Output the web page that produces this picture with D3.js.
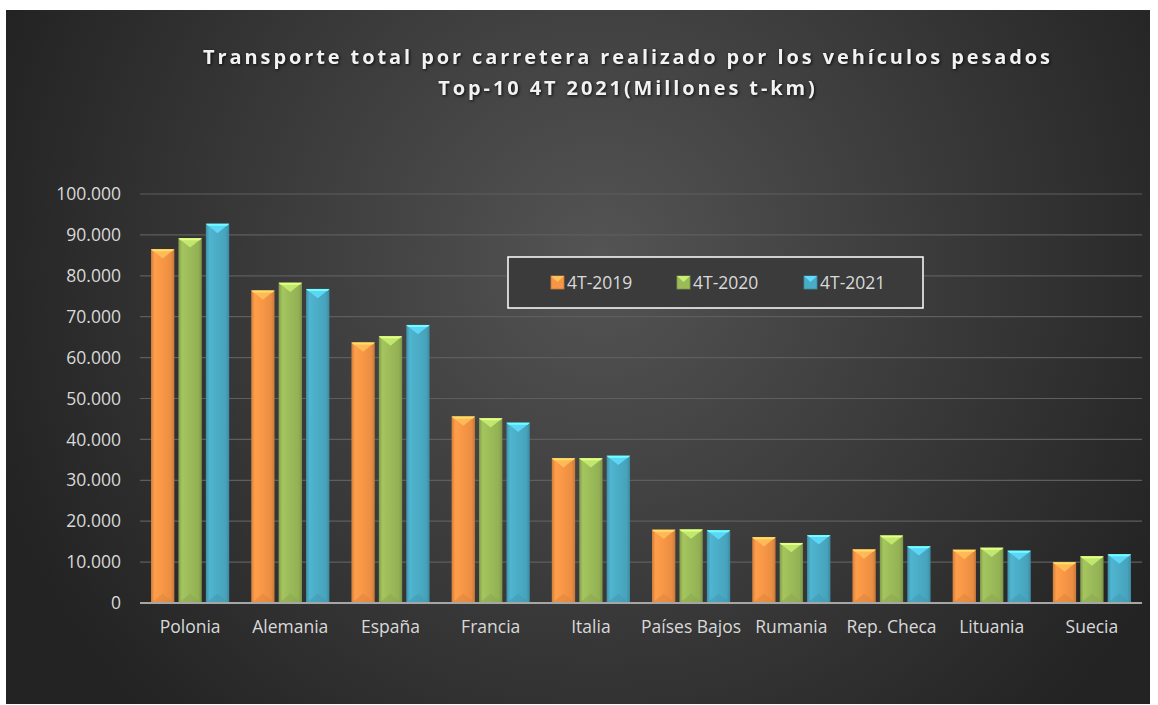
<!DOCTYPE html>
<html>
<head>
<meta charset="utf-8">
<script src="https://cdn.jsdelivr.net/npm/d3@7"></script>
<style>
  html, body { margin: 0; padding: 0; background: #fff; }
  text { font-family: "Open Sans", "Noto Sans", sans-serif; }
</style>
</head>
<body>
<script>
// data (millones t-km)
var paises = ['Polonia', 'Alemania', 'España', 'Francia', 'Italia', 'Países Bajos', 'Rumania', 'Rep. Checa', 'Lituania', 'Suecia'];
var series = ['4T-2019', '4T-2020', '4T-2021'];
var v2019 = [86500, 76400, 63700, 45600, 35400, 17900, 16100, 13100, 13000, 9950];
var v2020 = [89200, 78300, 65200, 45200, 35400, 18000, 14700, 16500, 13500, 11400];
var v2021 = [92700, 76800, 68000, 44100, 36000, 17800, 16600, 13900, 12800, 11900];
var yTicks = [0, 10000, 20000, 30000, 40000, 50000, 60000, 70000, 80000, 90000, 100000];

var colores = ['#f79646', '#9bbb59', '#4bacc6'];

var width = 1158, height = 705;
var svg = d3.select('body').append('svg')
    .attr('width', width)
    .attr('height', height);

var defs = svg.append('defs');

// chart background
var bg = defs.append('radialGradient')
    .attr('id', 'bg')
    .attr('gradientUnits', 'userSpaceOnUse')
    .attr('cx', 600).attr('cy', 260).attr('r', 640);
bg.append('stop').attr('offset', '0%').attr('stop-color', '#545454');
bg.append('stop').attr('offset', '100%').attr('stop-color', '#232323');

svg.append('rect')
    .attr('x', 6).attr('y', 10)
    .attr('width', 1144).attr('height', 694)
    .attr('fill', 'url(#bg)');

// bar gradients (cylinder-like shading)
colores.forEach(function(c, i) {
  var g = defs.append('linearGradient')
      .attr('id', 'bar' + i)
      .attr('x1', 0).attr('x2', 1).attr('y1', 0).attr('y2', 0);
  var base = d3.color(c);
  g.append('stop').attr('offset', '0%').attr('stop-color', base.darker(0.5));
  g.append('stop').attr('offset', '15%').attr('stop-color', base.brighter(0.15));
  g.append('stop').attr('offset', '50%').attr('stop-color', base);
  g.append('stop').attr('offset', '85%').attr('stop-color', base.darker(0.15));
  g.append('stop').attr('offset', '100%').attr('stop-color', base.darker(0.6));
});

var margin = { top: 194, right: 16, bottom: 102, left: 140 };
var innerW = 1142 - margin.left;
var innerH = 603 - margin.top;

var g = svg.append('g')
    .attr('transform', 'translate(' + margin.left + ',' + margin.top + ')');

var x0 = d3.scaleBand()
    .domain(paises)
    .range([0, innerW])
    .paddingInner(0.22)
    .paddingOuter(0.11);

var x1 = d3.scaleBand()
    .domain(series)
    .range([0, x0.bandwidth()])
    .paddingInner(0.15);

var y = d3.scaleLinear()
    .domain([0, 100000])
    .range([innerH, 0]);

var fmt = function(d) {
  return d3.format(',')(d).replace(/,/g, '.');
};

// gridlines
g.append('g')
    .selectAll('line')
    .data(yTicks.slice(1))
  .enter().append('line')
    .attr('x1', 0).attr('x2', innerW)
    .attr('y1', function(d) { return y(d); })
    .attr('y2', function(d) { return y(d); })
    .attr('stroke', '#5e5e5e')
    .attr('stroke-width', 1.2);

// y axis
var yAxis = g.append('g')
    .call(d3.axisLeft(y).tickValues(yTicks).tickFormat(fmt).tickSize(0).tickPadding(19));
yAxis.select('.domain').remove();
yAxis.selectAll('text')
    .attr('fill', '#d9d9d9')
    .style('font-size', '17.5px');

var rows = paises.map(function(p, i) {
  return { pais: p, vals: [v2019[i], v2020[i], v2021[i]] };
});

var grupos = g.selectAll('.grupo')
    .data(rows)
  .enter().append('g')
    .attr('class', 'grupo')
    .attr('transform', function(d) { return 'translate(' + x0(d.pais) + ',0)'; });

var barras = grupos.selectAll('.barra')
    .data(function(d) { return d.vals.map(function(v, i) { return { serie: series[i], i: i, v: v }; }); })
  .enter().append('g')
    .attr('class', 'barra');

barras.append('rect')
    .attr('x', function(d) { return x1(d.serie); })
    .attr('y', function(d) { return y(d.v); })
    .attr('width', x1.bandwidth())
    .attr('height', function(d) { return innerH - y(d.v); })
    .attr('fill', function(d) { return 'url(#bar' + d.i + ')'; });

// bevel on top
barras.append('path')
    .attr('d', function(d) {
      var bx = x1(d.serie), w = x1.bandwidth(), ty = y(d.v), b = w * 0.4;
      return 'M' + bx + ',' + ty + 'L' + (bx + w) + ',' + ty + 'L' + (bx + w / 2) + ',' + (ty + b) + 'Z';
    })
    .attr('fill', function(d) { return d3.color(colores[d.i]).brighter(0.7); })
    .attr('opacity', 0.85);

barras.append('path')
    .attr('d', function(d) {
      var bx = x1(d.serie), w = x1.bandwidth(), ty = y(d.v);
      return 'M' + bx + ',' + ty + 'L' + (bx + w) + ',' + ty + 'L' + (bx + w - 2) + ',' + (ty + 2) + 'L' + (bx + 2) + ',' + (ty + 2) + 'Z';
    })
    .attr('fill', function(d) { return d3.color(colores[d.i]).brighter(1.1); });

// subtle bevel on bottom
barras.append('path')
    .attr('d', function(d) {
      var bx = x1(d.serie), w = x1.bandwidth(), b = w * 0.4;
      return 'M' + bx + ',' + innerH + 'L' + (bx + w) + ',' + innerH + 'L' + (bx + w / 2) + ',' + (innerH - b) + 'Z';
    })
    .attr('fill', function(d) { return d3.color(colores[d.i]).darker(0.35); })
    .attr('opacity', 0.5);

// base line
g.append('line')
    .attr('x1', 0).attr('x2', innerW)
    .attr('y1', innerH).attr('y2', innerH)
    .attr('stroke', '#a6a6a6')
    .attr('stroke-width', 2);

// x axis labels
var xAxis = g.append('g')
    .attr('transform', 'translate(0,' + innerH + ')')
    .call(d3.axisBottom(x0).tickSize(0).tickPadding(18));
xAxis.select('.domain').remove();
xAxis.selectAll('text')
    .attr('fill', '#d9d9d9')
    .style('font-size', '17.5px');

// title
var titulo = svg.append('text')
    .attr('x', 628)
    .attr('text-anchor', 'middle')
    .attr('fill', '#f2f2f2')
    .style('font-size', '20px')
    .style('font-weight', 'bold')
    .style('letter-spacing', '2.9px')
    .style('filter', 'drop-shadow(1px 1px 1.5px rgba(0,0,0,0.8))');
titulo.append('tspan').attr('x', 628).attr('y', 64)
    .text('Transporte total por carretera realizado por los vehículos pesados');
titulo.append('tspan').attr('x', 628).attr('y', 95)
    .text('Top-10 4T 2021(Millones t-km)');

// legend
var leg = svg.append('g').attr('transform', 'translate(508,257)');
leg.append('rect')
    .attr('width', 415).attr('height', 51)
    .attr('fill', '#3b3b3b')
    .attr('stroke', '#ffffff')
    .attr('stroke-width', 1.5);

var legX = [43, 169, 296];
var items = leg.selectAll('.item')
    .data(series)
  .enter().append('g')
    .attr('class', 'item')
    .attr('transform', function(d, i) { return 'translate(' + legX[i] + ',19)'; });

items.append('rect')
    .attr('width', 13).attr('height', 13)
    .attr('fill', function(d, i) { return colores[i]; })
    .attr('stroke', function(d, i) { return d3.color(colores[i]).darker(0.6); })
    .attr('stroke-width', 0.8);
items.append('path')
    .attr('d', 'M0,0L13,0L6.5,6Z')
    .attr('fill', function(d, i) { return d3.color(colores[i]).brighter(0.7); });
items.append('text')
    .attr('x', 16).attr('y', 13)
    .attr('fill', '#d9d9d9')
    .style('font-size', '17.5px')
    .text(function(d) { return d; });
</script>
</body>
</html>
